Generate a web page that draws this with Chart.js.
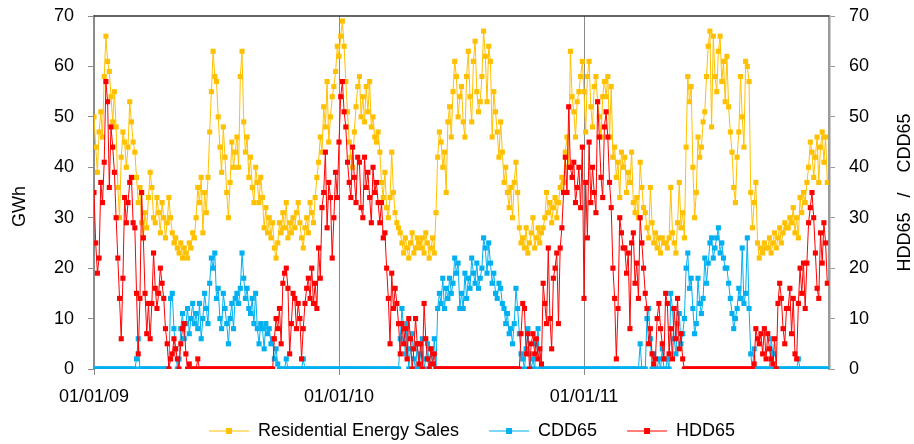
<!DOCTYPE html>
<html>
<head>
<meta charset="utf-8">
<title>Residential Energy Sales, HDD65 and CDD65</title>
<script src="https://cdn.jsdelivr.net/npm/chart.js@4.4.1/dist/chart.umd.min.js"></script>
<style>
  html, body { margin: 0; padding: 0; background: #fff; }
  #wrap { width: 914px; height: 444px; }
</style>
</head>
<body>
<div id="wrap"><canvas id="chart" width="914" height="444"></canvas></div>
<script>
// 12 readings per month, Jan 2009 .. Dec 2011
const PER_MONTH = 12;
const yearTicks = [0, 12, 24];          // months since 01/01/09
const yearLabels = ['01/01/09', '01/01/10', '01/01/11'];

const sales2009 = [
  50, 44, 39, 47, 51, 46, 58, 66, 61, 59, 54, 49,
  55, 48, 36, 30, 42, 47, 45, 40, 44, 53, 49, 45,
  43, 38, 33, 36, 29, 26, 31, 28, 34, 39, 36, 30,
  29, 34, 31, 27, 33, 30, 26, 29, 34, 30, 27, 25,
  26, 24, 23, 25, 22, 24, 23, 22, 25, 24, 27, 26,
  30, 36, 33, 38, 27, 35, 31, 38, 47, 55, 63, 58,
  57, 50, 44, 39, 48, 42, 35, 30, 37, 45, 40, 43,
  46, 40, 58, 63, 49, 43, 46, 38, 42, 36, 33, 40,
  37, 33, 38, 34, 28, 32, 27, 30, 26, 29, 24, 22,
  25, 29, 27, 31, 28, 33, 26, 29, 27, 30, 28, 31,
  33, 29, 26, 24, 28, 30, 27, 33, 31, 29, 34, 38,
  41, 46, 43, 52, 48, 57, 45, 50, 54, 56, 59, 64
];
const sales2010 = [
  62, 66, 69, 64, 57, 51, 45, 42, 40, 47, 52, 56,
  58, 50, 54, 49, 56, 51, 57, 48, 50, 46, 45, 47,
  43, 37, 34, 39, 32, 30, 34, 43, 35, 31, 29, 28,
  27, 25, 23, 26, 24, 22, 25, 27, 23, 24, 26, 25,
  24, 26, 23, 27, 25, 22, 24, 26, 23, 31, 42, 47,
  45, 40, 43, 35, 49, 52, 46, 55, 61, 58, 50, 54,
  56, 49, 46, 58, 63, 54, 49, 61, 65, 55, 51, 53,
  58, 67, 62, 53, 64, 61, 46, 55, 51, 47, 42, 49,
  43, 37, 40, 35, 32, 36, 30, 37, 41, 35, 28, 25,
  26, 24, 28, 23, 25, 27, 30, 24, 26, 28, 25, 27,
  28, 30, 35, 31, 33, 29, 32, 34, 30, 33, 36, 38,
  37, 43, 46, 40, 63, 54, 51, 46, 53, 55, 58, 61
];
const sales2011 = [
  55, 47, 58, 61, 52, 48, 56, 58, 53, 50, 46, 54,
  57, 54, 58, 46, 56, 42, 44, 38, 41, 34, 43, 40,
  42, 35, 39, 37, 43, 33, 31, 34, 30, 41, 36, 32,
  31, 28, 26, 36, 29, 25, 27, 24, 26, 23, 26, 25,
  25, 24, 26, 36, 27, 25, 23, 29, 37, 28, 31, 26,
  44, 58, 53, 56, 40, 30, 35, 46, 42, 44, 49, 51,
  58, 64, 67, 48, 66, 58, 55, 63, 66, 57, 61, 53,
  62, 52, 47, 43, 36, 33, 42, 47, 58, 50, 44, 61,
  60, 57, 35, 28, 33, 37, 25, 22, 24, 23, 25, 24,
  24, 26, 23, 25, 27, 24, 26, 28, 25, 27, 29, 28,
  28, 30, 29, 32, 27, 30, 26, 34, 31, 35, 33, 37,
  40, 45, 43, 38, 42, 46, 37, 44, 47, 41, 46, 37
];

const cdd2009 = [
  0, 0, 0, 0, 0, 0, 0, 0, 0, 0, 0, 0,
  0, 0, 0, 0, 0, 0, 0, 0, 0, 0, 0, 0,
  0, 2, 6, 0, 0, 0, 0, 0, 0, 0, 0, 0,
  0, 0, 0, 0, 0, 0, 0, 0, 0, 14, 15, 8,
  4, 0, 2, 8, 11, 6, 9, 12, 7, 10, 13, 9,
  11, 8, 13, 6, 10, 15, 12, 9, 17, 22, 20, 23,
  14, 16, 10, 8, 15, 12, 9, 5, 10, 13, 8, 14,
  15, 13, 16, 23, 18, 14, 16, 12, 11, 14, 9, 15,
  8, 5, 9, 8, 4, 9, 7, 8, 5, 6, 2, 4,
  1, 0, 0, 0, 0, 2, 0, 0, 0, 0, 0, 0,
  0, 0, 0, 2, 0, 0, 0, 0, 0, 0, 0, 0,
  0, 0, 0, 0, 0, 0, 0, 0, 0, 0, 0, 0
];
const cdd2010 = [
  0, 0, 0, 0, 0, 0, 0, 0, 0, 0, 0, 0,
  0, 0, 0, 0, 0, 0, 0, 0, 0, 0, 0, 0,
  0, 0, 0, 0, 0, 0, 0, 0, 0, 0, 0, 0,
  6, 12, 8, 3, 9, 0, 4, 7, 2, 0, 5, 0,
  3, 6, 0, 2, 5, 0, 4, 1, 6, 0, 12, 15,
  13, 18, 12, 16, 14, 18, 15, 17, 22, 19, 21, 12,
  15, 12, 19, 14, 18, 16, 22, 19, 17, 21, 16, 18,
  20, 26, 24, 19, 25, 21, 17, 19, 15, 14, 17, 16,
  13, 12, 9, 11, 7, 8, 5, 9, 16, 12, 7, 3,
  2, 0, 4, 8, 3, 0, 2, 0, 5, 8, 0, 0,
  0, 0, 0, 0, 0, 0, 0, 0, 0, 0, 0, 0,
  0, 0, 0, 0, 0, 0, 0, 0, 0, 0, 0, 0
];
const cdd2011 = [
  0, 0, 0, 0, 0, 0, 0, 0, 0, 0, 0, 0,
  0, 0, 0, 0, 0, 0, 0, 0, 0, 0, 0, 0,
  0, 0, 0, 0, 0, 0, 0, 0, 0, 5, 0, 0,
  0, 10, 12, 6, 0, 3, 0, 0, 2, 0, 4, 0,
  0, 2, 0, 15, 12, 6, 3, 9, 11, 5, 7, 10,
  20, 23, 16, 18, 12, 7, 9, 18, 13, 11, 14, 22,
  17, 21, 25, 26, 22, 24, 26, 28, 23, 25, 22, 20,
  20, 17, 14, 11, 8, 10, 12, 16, 14, 24, 13, 15,
  26, 12, 3, 0, 4, 0, 0, 0, 0, 0, 0, 0,
  0, 0, 6, 3, 0, 0, 0, 0, 0, 0, 0, 0,
  0, 0, 0, 0, 0, 0, 2, 0, 0, 0, 0, 0,
  0, 0, 0, 0, 0, 0, 0, 0, 0, 0, 0, 0
];

const hdd2009 = [
  35, 25, 19, 22, 37, 33, 41, 57, 53, 36, 48, 44,
  39, 30, 22, 14, 6, 18, 34, 29, 33, 37, 38, 29,
  28, 15, 3, 14, 35, 26, 15, 7, 13, 6, 13, 23,
  16, 12, 15, 20, 17, 14, 8, 5, 0, 2, 3, 6,
  4, 2, 0, 5, 8, 9, 3, 0, 1, 0, 0, 0,
  0, 2, 0, 0, 0, 0, 0, 0, 0, 0, 0, 0,
  0, 0, 0, 0, 0, 0, 0, 0, 0, 0, 0, 0,
  0, 0, 0, 0, 0, 0, 0, 0, 0, 0, 0, 0,
  0, 0, 0, 0, 0, 0, 0, 0, 0, 0, 6, 10,
  8, 12, 5, 17, 19, 20, 16, 3, 9, 15, 14, 8,
  13, 10, 2, 8, 13, 16, 18, 14, 20, 13, 17, 12,
  24, 18, 32, 35, 43, 28, 37, 34, 22, 30, 39, 34
];
const hdd2010 = [
  45, 54, 57, 51, 48, 41, 37, 34, 44, 38, 33, 42,
  41, 32, 30, 42, 36, 39, 34, 29, 40, 35, 37, 33,
  29, 33, 26, 27, 20, 14, 5, 19, 12, 16, 13, 9,
  3, 9, 5, 8, 2, 10, 6, 0, 4, 10, 5, 1,
  5, 0, 13, 6, 2, 0, 4, 1, 3, 0, 0, 0,
  0, 0, 0, 0, 0, 0, 0, 0, 0, 0, 0, 0,
  0, 0, 0, 0, 0, 0, 0, 0, 0, 0, 0, 0,
  0, 0, 0, 0, 0, 0, 0, 0, 0, 0, 0, 0,
  0, 0, 0, 0, 0, 0, 0, 0, 0, 0, 0, 7,
  13, 12, 3, 7, 0, 5, 7, 3, 6, 2, 4, 1,
  17, 13, 9, 24, 10, 4, 18, 20, 23, 9, 24, 28,
  35, 42, 35, 52, 40, 38, 41, 33, 36, 40, 32, 44
];
const hdd2011 = [
  14, 37, 26, 45, 33, 40, 35, 31, 53, 46, 38, 34,
  48, 51, 46, 37, 32, 20, 14, 2, 12, 30, 27, 24,
  24, 19, 23, 8, 25, 27, 17, 21, 14, 30, 25, 20,
  15, 12, 5, 8, 3, 1, 2, 10, 13, 8, 5, 2,
  15, 13, 3, 8, 2, 12, 6, 14, 4, 7, 2, 0,
  0, 0, 0, 0, 0, 0, 0, 0, 0, 0, 0, 0,
  0, 0, 0, 0, 0, 0, 0, 0, 0, 0, 0, 0,
  0, 0, 0, 0, 0, 0, 0, 0, 0, 0, 0, 0,
  0, 0, 0, 0, 1, 8, 6, 5, 7, 3, 8, 2,
  7, 4, 2, 1, 6, 0, 13, 17, 14, 8, 5, 12,
  12, 16, 7, 14, 3, 2, 13, 20, 15, 21, 12, 21,
  29, 32, 35, 30, 23, 16, 14, 27, 21, 29, 25, 17
];

const ORANGE = '#FFC000';
const CYAN = '#00B0F0';
const RED = '#FF0000';
const FONT = '"Liberation Sans", Arial, Helvetica, sans-serif';

const toPoints = arr => arr.map((v, i) => ({ x: i / PER_MONTH, y: v }));

// legend icon: short line with a square marker in the middle
function legendIcon(color) {
  const c = document.createElement('canvas');
  c.width = 70; c.height = 10;
  const g = c.getContext('2d');
  g.strokeStyle = color; g.lineWidth = 1.2;
  g.beginPath(); g.moveTo(30, 5); g.lineTo(70, 5); g.stroke();
  g.fillStyle = color;
  g.fillRect(47, 2, 6, 6);
  return c;
}
const icons = [legendIcon(ORANGE), legendIcon(CYAN), legendIcon(RED)];

function series(label, values, color, axis, order) {
  return {
    label: label,
    data: toPoints(values),
    yAxisID: axis,
    order: order,
    borderColor: color,
    backgroundColor: color,
    borderWidth: 1,
    pointStyle: 'rect',
    pointRadius: 3.6,
    pointBorderWidth: 0,
    pointBackgroundColor: color,
    tension: 0
  };
}

// no extra room above the plot for the top tick label
const noPad = scale => { scale.paddingTop = 0; scale.paddingBottom = 0; };

const decorations = {
  id: 'decorations',
  afterDraw(chart) {
    const { ctx, chartArea: a } = chart;
    ctx.save();
    ctx.strokeStyle = '#333';
    ctx.lineWidth = 1.5;
    ctx.beginPath();
    ctx.moveTo(a.left, a.top);
    ctx.lineTo(a.right, a.top);
    ctx.stroke();

    const mid = (a.top + a.bottom) / 2;
    ctx.font = '18px ' + FONT;
    ctx.fillStyle = '#000';
    ctx.textAlign = 'center';
    ctx.textBaseline = 'middle';
    ctx.translate(20, mid + 14);
    ctx.rotate(-Math.PI / 2);
    ctx.fillText('GWh', 0, 0);
    ctx.restore();

    ctx.save();
    ctx.font = '18px ' + FONT;
    ctx.fillStyle = '#000';
    ctx.textAlign = 'center';
    ctx.textBaseline = 'middle';
    ctx.translate(chart.width - 9, mid);
    ctx.rotate(-Math.PI / 2);
    ctx.fillText('HDD65   /    CDD65', 0, 0);
    ctx.restore();
  }
};

Chart.defaults.font.family = FONT;
Chart.defaults.font.size = 18;
Chart.defaults.color = '#000';

new Chart(document.getElementById('chart'), {
  type: 'line',
  data: {
    datasets: [
      series('Residential Energy Sales', [...sales2009, ...sales2010, ...sales2011], ORANGE, 'y', 3),
      series('CDD65', [...cdd2009, ...cdd2010, ...cdd2011], CYAN, 'y1', 2),
      series('HDD65', [...hdd2009, ...hdd2010, ...hdd2011], RED, 'y1', 1)
    ]
  },
  options: {
    responsive: false,
    animation: false,
    devicePixelRatio: 1,
    layout: { padding: { top: 16, left: 0, right: 0, bottom: -6 } },
    plugins: {
      tooltip: { enabled: false },
      legend: {
        position: 'bottom',
        labels: {
          usePointStyle: true,
          pointStyleWidth: 70,
          padding: 0,
          font: { size: 18 },
          sort: (a, b) => a.datasetIndex - b.datasetIndex,
          generateLabels(chart) {
            const items = Chart.defaults.plugins.legend.labels.generateLabels(chart);
            items.forEach(it => { it.pointStyle = icons[it.datasetIndex]; });
            return items;
          }
        }
      }
    },
    scales: {
      x: {
        type: 'linear',
        min: 0,
        max: 36,
        afterBuildTicks(scale) {
          scale.ticks = yearTicks.map(v => ({ value: v }));
        },
        afterFit(scale) { scale.height = 53; },
        ticks: {
          autoSkip: false,
          maxRotation: 0,
          padding: 11,
          callback: (value, index) => yearLabels[index]
        },
        grid: { color: '#8a8a8a', lineWidth: 1, tickLength: 6 },
        border: { display: false }
      },
      y: {
        position: 'left',
        min: 0,
        max: 70,
        afterFit(scale) { scale.width = 94; noPad(scale); },
        ticks: { stepSize: 10, padding: 14 },
        grid: { drawOnChartArea: false, color: '#8a8a8a', tickLength: 6 },
        border: { color: '#8a8a8a', width: 2 }
      },
      y1: {
        position: 'right',
        min: 0,
        max: 70,
        afterFit(scale) { scale.width = 85; noPad(scale); },
        ticks: { stepSize: 10, padding: 14 },
        grid: { drawOnChartArea: false, color: '#9a9a9a', tickLength: 6 },
        border: { color: '#9a9a9a', width: 2.5 }
      }
    }
  },
  plugins: [decorations]
});
</script>
</body>
</html>
